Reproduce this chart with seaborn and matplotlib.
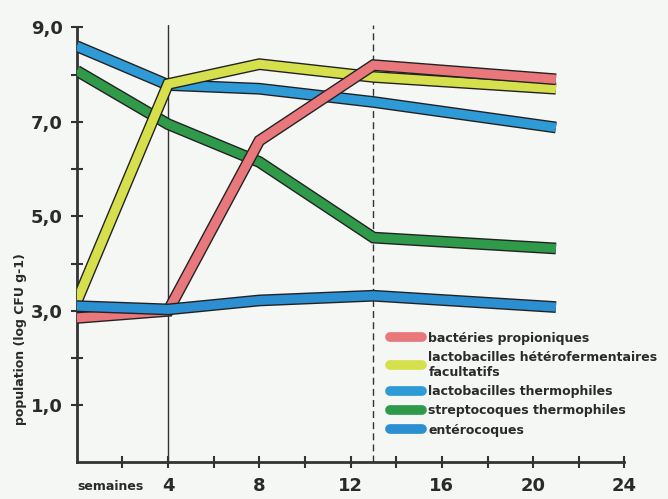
import numpy as np
import pandas as pd
import seaborn as sns
import matplotlib.pyplot as plt
import matplotlib.patheffects as pe
from matplotlib.lines import Line2D

# semaines de mesure
weeks = [0, 4, 8, 13, 21]

propioniques = [2.85, 3.0, 6.6, 8.2, 7.9]
lacto_hetero = [3.2, 7.8, 8.22, 7.95, 7.7]
lacto_thermo = [8.6, 7.78, 7.7, 7.42, 6.88]
strepto_thermo = [8.08, 6.95, 6.15, 4.55, 4.32]
enterocoques = [3.1, 3.03, 3.22, 3.32, 3.08]

labels = ['bactéries propioniques',
          'lactobacilles hétérofermentaires\nfacultatifs',
          'lactobacilles thermophiles',
          'streptocoques thermophiles',
          'entérocoques']
colors = ['#e9787c', '#d6e04c', '#2f9bd6', '#2f9a4a', '#2c8fd2']
series = [propioniques, lacto_hetero, lacto_thermo, strepto_thermo, enterocoques]

x_ticks = [4, 8, 12, 16, 20, 24]
y_ticks = [1.0, 3.0, 5.0, 7.0, 9.0]
y_labels = ['1,0', '3,0', '5,0', '7,0', '9,0']

sns.set_style('ticks')
plt.rcParams['font.family'] = ['DejaVu Sans']

fig = plt.figure(figsize=(6.68, 4.99), dpi=100)
fig.patch.set_facecolor('#f5f7f4')
ax = fig.add_axes([0.115, 0.074, 0.83, 0.876])
ax.set_facecolor('#f5f7f4')

# reperes verticaux
ax.axvline(4, color='#333333', lw=1.0, zorder=1)
ax.axvline(13, color='#333333', lw=1.0, ls=(0, (5, 3)), zorder=1)

# ordre de dessin
order = [3, 2, 1, 0, 4]
for i in order:
    df = pd.DataFrame({'semaine': weeks, 'pop': series[i]})
    sns.lineplot(data=df, x='semaine', y='pop', ax=ax, color=colors[i],
                 lw=6.5, zorder=3 + order.index(i),
                 solid_capstyle='butt', solid_joinstyle='miter',
                 path_effects=[pe.Stroke(linewidth=8.5, foreground='#222222',
                                         capstyle='butt', joinstyle='miter'),
                               pe.Normal()])

ax.set_xlim(0, 24.3)
ax.set_ylim(-0.2, 9.05)
ax.spines['top'].set_visible(False)
ax.spines['right'].set_visible(False)
ax.spines['left'].set_bounds(-0.2, 9.0)
ax.spines['bottom'].set_bounds(0, 24)
for s in ['left', 'bottom']:
    ax.spines[s].set_linewidth(2)
    ax.spines[s].set_color('#333333')

ax.set_xticks(x_ticks)
ax.set_xticklabels([str(t) for t in x_ticks], fontsize=13, fontweight='bold', color='#2a2a2a')
ax.set_xticks([2, 6, 10, 14, 18, 22], minor=True)
ax.set_yticks(y_ticks)
ax.set_yticklabels(y_labels, fontsize=13, fontweight='bold', color='#2a2a2a')
ax.set_yticks([2, 4, 6, 8], minor=True)
ax.tick_params(axis='both', which='both', direction='inout', length=8, width=1.5, color='#333333')
ax.tick_params(axis='x', pad=7)
ax.tick_params(axis='y', pad=6)

ax.set_xlabel('')
ax.set_ylabel('')
fig.text(0.03, 0.32, 'population (log CFU g-1)', rotation=90, fontsize=9,
         fontweight='bold', color='#2a2a2a', ha='center', va='center')
fig.text(0.165, 0.012, 'semaines', fontsize=9, fontweight='bold', color='#2a2a2a',
         ha='center', va='bottom')

handles = [Line2D([0], [0], color=c, lw=7, solid_capstyle='round') for c in colors]
leg = ax.legend(handles, labels, loc='upper left', bbox_to_anchor=(0.555, 0.31),
                frameon=False, fontsize=9, handlelength=2.6, handletextpad=0.5,
                labelspacing=0.5, borderaxespad=0)
for t in leg.get_texts():
    t.set_fontweight('bold')
    t.set_color('#2a2a2a')

fig.savefig('out.png', dpi=100, facecolor=fig.get_facecolor())
